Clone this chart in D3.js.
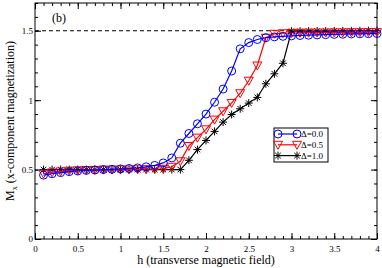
<!DOCTYPE html>
<html>
<head>
<meta charset="utf-8">
<script src="https://cdn.jsdelivr.net/npm/d3@7"></script>
<style>
  body { margin: 0; background: #fff; }
  text { font-family: "Liberation Serif", "DejaVu Serif", serif; }
</style>
</head>
<body>
<div id="chart"></div>
<script>
// transverse field values
var hValues = d3.range(1, 41).map(function(i) { return i / 10; });

// Delta = 0.0
var mx00 = [0.46, 0.47, 0.478, 0.485, 0.49, 0.494, 0.497, 0.5, 0.502, 0.505,
  0.508, 0.512, 0.52, 0.53, 0.548, 0.584, 0.69, 0.76, 0.83, 0.9,
  0.985, 1.08, 1.21, 1.37, 1.415, 1.437, 1.45, 1.456, 1.46, 1.463,
  1.466, 1.468, 1.47, 1.472, 1.474, 1.475, 1.477, 1.478, 1.479, 1.48];
// Delta = 0.5
var mx05 = [0.47, 0.48, 0.487, 0.492, 0.495, 0.497, 0.498, 0.5, 0.5, 0.5,
  0.501, 0.502, 0.503, 0.504, 0.506, 0.52, 0.56, 0.67, 0.73, 0.79,
  0.86, 0.92, 0.98, 1.05, 1.14, 1.25, 1.45, 1.478, 1.482, 1.484,
  1.485, 1.486, 1.487, 1.487, 1.488, 1.488, 1.489, 1.489, 1.49, 1.49];
// Delta = 1.0
var mx10 = [0.5, 0.5, 0.5, 0.5, 0.5, 0.5, 0.5, 0.5, 0.5, 0.5,
  0.5, 0.5, 0.5, 0.5, 0.5, 0.5, 0.5, 0.567, 0.644, 0.71,
  0.775, 0.842, 0.897, 0.938, 0.979, 1.02, 1.118, 1.19, 1.266, 1.497,
  1.497, 1.498, 1.498, 1.498, 1.499, 1.499, 1.499, 1.5, 1.5, 1.5];

var seriesNames = ["\u0394=0.0", "\u0394=0.5", "\u0394=1.0"];
var xTicks = [0, 0.5, 1, 1.5, 2, 2.5, 3, 3.5, 4];
var yTicks = [0, 0.5, 1, 1.5];

var width = 382, height = 268;
var margin = { top: 3, right: 5, bottom: 29, left: 35 };
var innerW = width - margin.left - margin.right,
    innerH = height - margin.top - margin.bottom;

var svg = d3.select("#chart").append("svg")
  .attr("width", width)
  .attr("height", height);

var g = svg.append("g")
  .attr("transform", "translate(" + margin.left + "," + margin.top + ")");

var x = d3.scaleLinear().domain([0, 4]).range([0, innerW]);
var y = d3.scaleLinear().domain([0, 1.7]).range([innerH, 0]);

var series = [
  { name: seriesNames[0], values: mx00, color: "#0000ff", symbol: "circle" },
  { name: seriesNames[1], values: mx05, color: "#ff0000", symbol: "triangle" },
  { name: seriesNames[2], values: mx10, color: "#000000", symbol: "star" }
];

// ticks inward on all four sides
var minorX = d3.range(0, 41).map(function(i) { return i / 10; });
var minorY = d3.range(0, 18).map(function(i) { return i / 10; });

function tickAxis(axis, sel) {
  sel.selectAll(".domain").remove();
  sel.selectAll("text").remove();
}

g.append("g").attr("transform", "translate(0," + innerH + ")")
  .call(d3.axisBottom(x).tickValues(minorX).tickSize(-3).tickFormat(""))
  .call(function(s) { s.selectAll(".domain").remove(); });
g.append("g").attr("transform", "translate(0," + innerH + ")")
  .call(d3.axisBottom(x).tickValues(xTicks).tickSize(-6).tickPadding(10).tickFormat(d3.format("")))
  .call(function(s) {
    s.selectAll(".domain").remove();
    s.selectAll("text").attr("font-size", 9).attr("dy", "0.3em");
  });
g.append("g")
  .call(d3.axisTop(x).tickValues(minorX).tickSize(-3).tickFormat(""))
  .call(function(s) { s.selectAll(".domain").remove(); });
g.append("g")
  .call(d3.axisTop(x).tickValues(xTicks).tickSize(-6).tickFormat(""))
  .call(function(s) { s.selectAll(".domain").remove(); });

g.append("g")
  .call(d3.axisLeft(y).tickValues(minorY).tickSize(-3).tickFormat(""))
  .call(function(s) { s.selectAll(".domain").remove(); });
g.append("g")
  .call(d3.axisLeft(y).tickValues(yTicks).tickSize(-6).tickPadding(2).tickFormat(d3.format("")))
  .call(function(s) {
    s.selectAll(".domain").remove();
    s.selectAll("text").attr("font-size", 9).attr("x", -2);
  });
g.append("g").attr("transform", "translate(" + innerW + ",0)")
  .call(d3.axisRight(y).tickValues(minorY).tickSize(-3).tickFormat(""))
  .call(function(s) { s.selectAll(".domain").remove(); });
g.append("g").attr("transform", "translate(" + innerW + ",0)")
  .call(d3.axisRight(y).tickValues(yTicks).tickSize(-6).tickFormat(""))
  .call(function(s) { s.selectAll(".domain").remove(); });

g.selectAll(".tick line").attr("stroke", "#000").attr("stroke-width", 1);

// frame
g.append("rect")
  .attr("width", innerW).attr("height", innerH)
  .attr("fill", "none").attr("stroke", "#000").attr("stroke-width", 1);

// dashed saturation line
g.append("line")
  .attr("x1", 0).attr("x2", innerW)
  .attr("y1", y(1.5)).attr("y2", y(1.5))
  .attr("stroke", "#000").attr("stroke-width", 1)
  .attr("stroke-dasharray", "4,3");

var line = d3.line()
  .x(function(d, i) { return x(hValues[i]); })
  .y(function(d) { return y(d); });

function drawSymbol(sel, symbol, color) {
  if (symbol === "circle") {
    sel.append("circle").attr("r", 4)
      .attr("fill", "none").attr("stroke", color).attr("stroke-width", 1);
  } else if (symbol === "triangle") {
    sel.append("path").attr("d", "M-4.5,-3.5L4.5,-3.5L0,4.5Z")
      .attr("fill", "none").attr("stroke", color).attr("stroke-width", 1);
  } else {
    sel.append("path")
      .attr("d", "M-4,0L4,0M0,-4L0,4M-2.8,-2.8L2.8,2.8M-2.8,2.8L2.8,-2.8")
      .attr("fill", "none").attr("stroke", color).attr("stroke-width", 1);
  }
}

// draw in reverse order so blue is on top at the start
series.slice().reverse().forEach(function(s) {
  g.append("path")
    .datum(s.values)
    .attr("d", line)
    .attr("fill", "none")
    .attr("stroke", s.color)
    .attr("stroke-width", 1.2);

  g.selectAll(null)
    .data(s.values)
    .enter().append("g")
    .attr("transform", function(d, i) {
      return "translate(" + x(hValues[i]) + "," + y(d) + ")";
    })
    .each(function() { drawSymbol(d3.select(this), s.symbol, s.color); });
});

// legend
var legend = g.append("g")
  .attr("transform", "translate(" + (274 - margin.left) + "," + (128 - margin.top) + ")");
legend.append("rect")
  .attr("width", 54).attr("height", 34)
  .attr("fill", "#fff").attr("stroke", "#000").attr("stroke-width", 1);
series.forEach(function(s, i) {
  var row = legend.append("g").attr("transform", "translate(0," + (6 + i * 10.8) + ")");
  row.append("line").attr("x1", 4).attr("x2", 23)
    .attr("stroke", s.color).attr("stroke-width", 1.2);
  drawSymbol(row.append("g").attr("transform", "translate(4,0)"), s.symbol, s.color);
  drawSymbol(row.append("g").attr("transform", "translate(23,0)"), s.symbol, s.color);
  row.append("text").attr("x", 27).attr("y", 3.3)
    .attr("font-size", 9).text(s.name);
});

// panel label
g.append("text")
  .attr("x", 17).attr("y", 19)
  .attr("font-size", 12)
  .text("(b)");

// axis titles
svg.append("text")
  .attr("x", margin.left + innerW / 2)
  .attr("y", 264)
  .attr("text-anchor", "middle")
  .attr("font-size", 12)
  .text("h (transverse magnetic field)");

var yTitle = svg.append("text")
  .attr("transform", "translate(14," + (margin.top + innerH / 2) + ") rotate(-90)")
  .attr("text-anchor", "middle")
  .attr("font-size", 12);
yTitle.append("tspan").text("M");
yTitle.append("tspan").attr("font-size", 8).attr("dy", 3).text("x");
yTitle.append("tspan").attr("dy", -3).text(" (x-component magnetization)");
</script>
</body>
</html>
